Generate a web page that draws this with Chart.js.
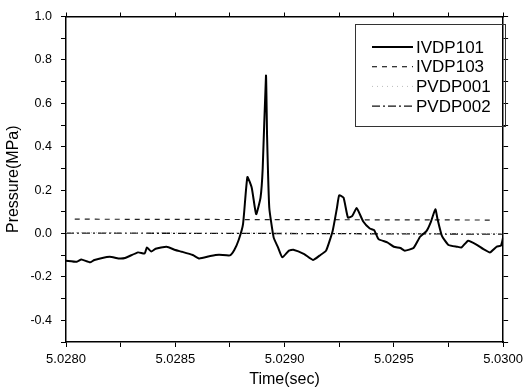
<!DOCTYPE html>
<html>
<head>
<meta charset="utf-8">
<script src="https://cdn.jsdelivr.net/npm/chart.js@4/dist/chart.umd.min.js"></script>
<style>
  html, body { margin: 0; padding: 0; background: #fff; }
  #wrap { width: 528px; height: 389px; }
</style>
</head>
<body>
<div id="wrap"><canvas id="c"></canvas></div>
<script>
// time (sec) and pressure (MPa)
var tIVDP101 = [5.02800, 5.02805, 5.02807, 5.02811, 5.02813, 5.02820, 5.02824, 5.02827, 5.02833, 5.02836,
    5.02837, 5.02839, 5.02841, 5.02846, 5.02850, 5.02853, 5.02858, 5.02861, 5.02866, 5.02870,
    5.02875, 5.02877, 5.02879, 5.02881, 5.02883, 5.02885, 5.02887, 5.02889, 5.02890, 5.028915,
    5.02892, 5.02893, 5.02895, 5.02897, 5.02899, 5.02902, 5.02904, 5.02909, 5.02913, 5.02916,
    5.02919, 5.02922, 5.02924, 5.02925, 5.02927, 5.02929, 5.02931, 5.02933, 5.02936, 5.02939,
    5.02941, 5.02943, 5.02947, 5.02950, 5.02953, 5.02955, 5.02959, 5.02962, 5.02965, 5.02967,
    5.02969, 5.02970, 5.02972, 5.02975, 5.02979, 5.02981, 5.02984, 5.02988, 5.02991, 5.02994,
    5.02997, 5.02999, 5.03000];
var pIVDP101 = [-0.125, -0.130, -0.120, -0.133, -0.122, -0.107, -0.115, -0.113, -0.087, -0.092,
    -0.064, -0.083, -0.070, -0.061, -0.076, -0.084, -0.099, -0.115, -0.104, -0.098,
    -0.101, -0.076, -0.030, 0.043, 0.260, 0.210, 0.089, 0.165, 0.300, 0.728,
    0.450, 0.120, -0.018, -0.064, -0.110, -0.079, -0.075, -0.095, -0.122, -0.102,
    -0.079, 0.012, 0.120, 0.176, 0.165, 0.073, 0.081, 0.117, 0.055, 0.023,
    0.016, -0.026, -0.041, -0.061, -0.067, -0.079, -0.067, -0.015, 0.012, 0.055,
    0.112, 0.066, -0.011, -0.053, -0.061, -0.064, -0.033, -0.052, -0.072, -0.087,
    -0.061, -0.056, -0.018];

var tIVDP103 = [5.02804, 5.02900, 5.02996];
var pIVDP103 = [0.066, 0.064, 0.062];

var tPVDP001 = [5.02800, 5.03000];
var pPVDP001 = [0.004, 0.000];

var tPVDP002 = [5.02800, 5.02900, 5.03000];
var pPVDP002 = [0.002, 0.000, -0.003];

var xTicks = { min: 5.0280, max: 5.0300, step: 0.00025 };
var yTicks = { min: -0.5, max: 1.0, step: 0.1 };

function pts(t, p) {
    return t.map(function (v, i) { return { x: v, y: p[i] }; });
}

var FONT = 'Liberation Sans, Arial, sans-serif';

var boxPlugin = {
    id: 'boxLegend',
    afterDatasetsDraw: function (chart) {
        var ctx = chart.ctx;
        ctx.save();
        // legend box
        ctx.strokeStyle = '#333';
        ctx.lineWidth = 1;
        ctx.strokeRect(355.5, 24.5, 150, 102);
        ctx.font = '17px ' + FONT;
        ctx.textBaseline = 'middle';
        ctx.fillStyle = '#000';
        chart.data.datasets.forEach(function (ds, i) {
            var y = 47 + i * 19.7;
            ctx.beginPath();
            ctx.strokeStyle = ds.borderColor;
            ctx.lineWidth = ds.borderWidth;
            ctx.setLineDash(ds.borderDash || []);
            ctx.moveTo(372, y);
            ctx.lineTo(413, y);
            ctx.stroke();
            ctx.setLineDash([]);
            ctx.fillText(ds.label, 416, y + 1);
        });
        ctx.restore();
    }
};

new Chart(document.getElementById('c'), {
    type: 'line',
    data: {
        datasets: [{
            label: 'IVDP101',
            data: pts(tIVDP101, pIVDP101),
            borderColor: '#000',
            borderWidth: 2,
            pointRadius: 0,
            tension: 0.15,
            fill: false
        }, {
            label: 'IVDP103',
            data: pts(tIVDP103, pIVDP103),
            borderColor: '#222',
            borderWidth: 1.2,
            borderDash: [5, 5],
            pointRadius: 0,
            fill: false
        }, {
            label: 'PVDP001',
            data: pts(tPVDP001, pPVDP001),
            borderColor: '#bbb',
            borderWidth: 1,
            borderDash: [1, 4],
            pointRadius: 0,
            fill: false
        }, {
            label: 'PVDP002',
            data: pts(tPVDP002, pPVDP002),
            borderColor: '#111',
            borderWidth: 1.3,
            borderDash: [8, 3, 2, 3],
            pointRadius: 0,
            fill: false
        }]
    },
    options: {
        responsive: true,
        maintainAspectRatio: false,
        animation: false,
        layout: { padding: 0 },
        plugins: {
            legend: { display: false },
            tooltip: { enabled: false }
        },
        scales: {
            x: {
                type: 'linear',
                position: 'bottom',
                min: xTicks.min,
                max: xTicks.max,
                afterFit: function (s) { s.height = 47; },
                border: { color: '#000', width: 1.5 },
                grid: { drawOnChartArea: false, color: '#000', tickLength: 5 },
                ticks: {
                    stepSize: xTicks.step,
                    padding: 5,
                    color: '#000',
                    font: { family: FONT, size: 13 },
                    maxRotation: 0,
                    autoSkip: false,
                    callback: function (v) {
                        return Math.abs(v * 2000 - Math.round(v * 2000)) < 1e-6 ? v.toFixed(4) : '';
                    }
                },
                title: {
                    display: true,
                    text: 'Time(sec)',
                    color: '#000',
                    font: { family: FONT, size: 16 },
                    padding: { top: 0, bottom: 0 }
                }
            },
            x2: {
                type: 'linear',
                position: 'top',
                min: xTicks.min,
                max: xTicks.max,
                afterFit: function (s) { s.height = 14; },
                border: { color: '#000', width: 1.5 },
                grid: { drawOnChartArea: false, color: '#000', tickLength: 4 },
                ticks: { stepSize: xTicks.step, display: false }
            },
            y: {
                position: 'left',
                min: yTicks.min,
                max: yTicks.max,
                afterFit: function (s) { s.width = 66; },
                border: { color: '#000', width: 1.5 },
                grid: { drawOnChartArea: false, color: '#000', tickLength: 5 },
                ticks: {
                    stepSize: yTicks.step,
                    padding: 9,
                    color: '#000',
                    font: { family: FONT, size: 12.5 },
                    callback: function (v) {
                        return Math.abs(v * 5 - Math.round(v * 5)) < 1e-6 ? v.toFixed(1) : '';
                    }
                },
                title: {
                    display: true,
                    text: 'Pressure(MPa)',
                    color: '#000',
                    font: { family: FONT, size: 16 },
                    padding: { top: 4, bottom: 0 }
                }
            },
            y2: {
                position: 'right',
                min: yTicks.min,
                max: yTicks.max,
                afterFit: function (s) { s.width = 22; },
                border: { color: '#000', width: 1.5 },
                grid: { drawOnChartArea: false, color: '#000', tickLength: 5 },
                ticks: { stepSize: yTicks.step, display: false }
            }
        }
    },
    plugins: [boxPlugin]
});
</script>
</body>
</html>
